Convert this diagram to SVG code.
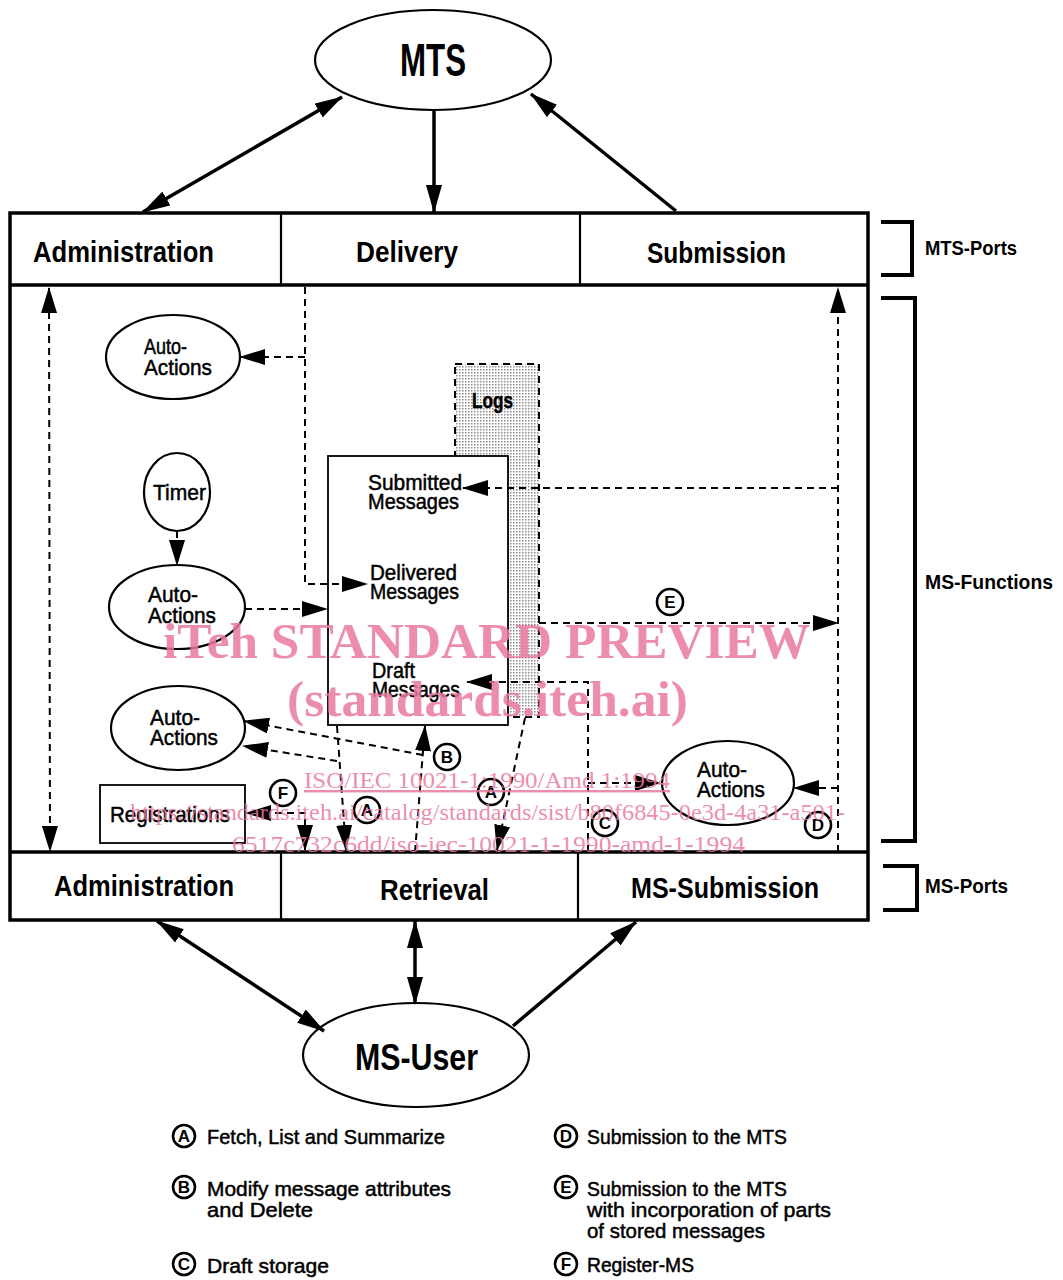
<svg xmlns="http://www.w3.org/2000/svg" width="1063" height="1280" viewBox="0 0 1063 1280">
<style>
  .bg { fill: #ffffff; }
  .frame { fill: none; stroke: #000; stroke-width: 3.5; }
  .cell { fill: #fff; stroke: #000; stroke-width: 2.2; }
  .ell { fill: #fff; stroke: #000; stroke-width: 2.2; }
  .box { fill: #fff; stroke: #000; stroke-width: 1.8; }
  .big { font-family: "Liberation Sans", Arial, sans-serif; font-weight: bold; fill: #000; }
  .side { font-family: "Liberation Sans", Arial, sans-serif; font-weight: bold; font-size: 21px; fill: #000; }
  .nt { font-family: "Liberation Sans", Arial, sans-serif; font-size: 22px; fill: #000; stroke: #000; stroke-width: 0.5; }
  .lg { font-family: "Liberation Sans", Arial, sans-serif; font-size: 21px; fill: #000; stroke: #000; stroke-width: 0.5; }
  .cl { font-family: "Liberation Sans", Arial, sans-serif; font-weight: bold; font-size: 17px; fill: #000; text-anchor: middle; }
  .circ { fill: #fff; stroke: #000; stroke-width: 2.6; }
  .solid { fill: none; stroke: #000; stroke-width: 3.5; }
  .dash { fill: none; stroke: #000; stroke-width: 2; stroke-dasharray: 7 5; }
  .brk { fill: none; stroke: #000; stroke-width: 4; }
  .wm { font-family: "Liberation Serif", "Times New Roman", serif; fill: #e9799d; fill-opacity: 0.85; }
</style>
<defs>
  <marker id="ah" viewBox="0 0 28 16" refX="27" refY="8" markerWidth="28" markerHeight="16" markerUnits="userSpaceOnUse" orient="auto-start-reverse">
    <path d="M0,0 L28,8 L0,16 z" fill="#000"/>
  </marker>
  <marker id="ahd" viewBox="0 0 26 16" refX="25" refY="8" markerWidth="26" markerHeight="16" markerUnits="userSpaceOnUse" orient="auto-start-reverse">
    <path d="M0,0 L26,8 L0,16 z" fill="#000"/>
  </marker>
  <pattern id="dots" width="3" height="3" patternUnits="userSpaceOnUse">
    <rect width="3" height="3" fill="#fff"/>
    <rect width="1.5" height="1.5" fill="#8a8a8a"/>
  </pattern>
</defs>
<rect class="bg" x="0" y="0" width="1063" height="1280"/>

<!-- Frame -->
<g id="frame">
  <rect class="frame" x="10" y="213" width="858" height="707"/>
  <line class="frame" x1="10" y1="285" x2="868" y2="285"/>
  <line class="frame" x1="10" y1="852" x2="868" y2="852"/>
</g>

<!-- MTS ports -->
<g id="port-admin-mts">
  <line class="cell" x1="281" y1="213" x2="281" y2="285"/>
  <text class="big" x="33" y="262" font-size="29" textLength="181" lengthAdjust="spacingAndGlyphs">Administration</text>
</g>
<g id="port-delivery">
  <line class="cell" x1="580" y1="213" x2="580" y2="285"/>
  <text class="big" x="356" y="262" font-size="29" textLength="102" lengthAdjust="spacingAndGlyphs">Delivery</text>
</g>
<g id="port-submission">
  <text class="big" x="647" y="263" font-size="29" textLength="139" lengthAdjust="spacingAndGlyphs">Submission</text>
</g>

<!-- MS ports -->
<g id="port-admin-ms">
  <line class="cell" x1="281" y1="852" x2="281" y2="920"/>
  <text class="big" x="54" y="896" font-size="30" textLength="180" lengthAdjust="spacingAndGlyphs">Administration</text>
</g>
<g id="port-retrieval">
  <line class="cell" x1="578" y1="852" x2="578" y2="920"/>
  <text class="big" x="380" y="900" font-size="30" textLength="109" lengthAdjust="spacingAndGlyphs">Retrieval</text>
</g>
<g id="port-ms-submission">
  <text class="big" x="631" y="898" font-size="30" textLength="188" lengthAdjust="spacingAndGlyphs">MS-Submission</text>
</g>

<!-- Brackets -->
<g id="bracket-mts-ports">
  <path class="brk" d="M881,222 L912,222 L912,275 L881,275"/>
  <text class="side" x="925" y="255" textLength="92" lengthAdjust="spacingAndGlyphs">MTS-Ports</text>
</g>
<g id="bracket-ms-functions">
  <path class="brk" d="M881,298 L915,298 L915,841 L881,841"/>
  <text class="side" x="925" y="589" textLength="128" lengthAdjust="spacingAndGlyphs">MS-Functions</text>
</g>
<g id="bracket-ms-ports">
  <path class="brk" d="M883,866 L917,866 L917,910 L883,910"/>
  <text class="side" x="925" y="893" textLength="83" lengthAdjust="spacingAndGlyphs">MS-Ports</text>
</g>

<!-- MTS -->
<g id="mts">
  <ellipse class="ell" cx="433" cy="60" rx="118" ry="50"/>
  <text class="big" x="400" y="76" font-size="46" textLength="66" lengthAdjust="spacingAndGlyphs">MTS</text>
</g>

<!-- MS-User -->
<g id="ms-user">
  <ellipse class="ell" cx="416" cy="1055" rx="113" ry="52"/>
  <text class="big" x="355" y="1070" font-size="36" textLength="123" lengthAdjust="spacingAndGlyphs">MS-User</text>
</g>

<!-- Auto-Actions 1 -->
<g id="auto-actions-1">
  <ellipse class="ell" cx="173" cy="357" rx="67" ry="42"/>
  <text class="nt" x="144" y="354" textLength="43" lengthAdjust="spacingAndGlyphs">Auto-</text>
  <text class="nt" x="144" y="375" textLength="68" lengthAdjust="spacingAndGlyphs">Actions</text>
</g>

<!-- Timer -->
<g id="timer">
  <ellipse class="ell" cx="177" cy="492" rx="33" ry="39"/>
  <text class="nt" x="153" y="500" textLength="53" lengthAdjust="spacingAndGlyphs">Timer</text>
</g>

<!-- Auto-Actions 2 -->
<g id="auto-actions-2">
  <ellipse class="ell" cx="177" cy="607" rx="68" ry="42"/>
  <text class="nt" x="148" y="602" textLength="50" lengthAdjust="spacingAndGlyphs">Auto-</text>
  <text class="nt" x="148" y="623" textLength="68" lengthAdjust="spacingAndGlyphs">Actions</text>
</g>

<!-- Auto-Actions (lower left) -->
<g id="auto-actions-3">
  <ellipse class="ell" cx="178" cy="728" rx="67" ry="42"/>
  <text class="nt" x="150" y="725" textLength="50" lengthAdjust="spacingAndGlyphs">Auto-</text>
  <text class="nt" x="150" y="745" textLength="68" lengthAdjust="spacingAndGlyphs">Actions</text>
</g>

<!-- Auto-Actions (right) -->
<g id="auto-actions-4">
  <ellipse class="ell" cx="728" cy="783" rx="66" ry="42"/>
  <text class="nt" x="697" y="777" textLength="50" lengthAdjust="spacingAndGlyphs">Auto-</text>
  <text class="nt" x="697" y="797" textLength="68" lengthAdjust="spacingAndGlyphs">Actions</text>
</g>

<!-- Registrations -->
<g id="registrations">
  <rect class="box" x="100" y="785" width="145" height="58"/>
  <text class="nt" x="110" y="822" textLength="120" lengthAdjust="spacingAndGlyphs">Registrations</text>
</g>

<!-- Logs -->
<g id="logs">
  <rect x="455" y="364" width="84" height="353" fill="url(#dots)" stroke="#000" stroke-width="2" stroke-dasharray="7 5"/>
  <text class="nt" x="472" y="408" font-weight="bold" font-size="20" textLength="41" lengthAdjust="spacingAndGlyphs">Logs</text>
</g>

<!-- Message store -->
<g id="message-store">
  <rect class="box" x="328" y="456" width="180" height="269"/>
  <text class="nt" x="368" y="490" textLength="94" lengthAdjust="spacingAndGlyphs">Submitted</text>
  <text class="nt" x="368" y="509" textLength="91" lengthAdjust="spacingAndGlyphs">Messages</text>
  <text class="nt" x="370" y="580" textLength="87" lengthAdjust="spacingAndGlyphs">Delivered</text>
  <text class="nt" x="370" y="599" textLength="89" lengthAdjust="spacingAndGlyphs">Messages</text>
  <text class="nt" x="372" y="678" textLength="43" lengthAdjust="spacingAndGlyphs">Draft</text>
  <text class="nt" x="372" y="697" textLength="88" lengthAdjust="spacingAndGlyphs">Messages</text>
</g>

<!-- Connectors -->
<g id="connectors">
  <line class="solid" x1="143" y1="212" x2="342" y2="97" marker-start="url(#ah)" marker-end="url(#ah)"/>
  <line class="solid" x1="434" y1="110" x2="434" y2="212" marker-end="url(#ah)"/>
  <line class="solid" x1="676" y1="211" x2="531" y2="94" marker-end="url(#ah)"/>
  <line class="solid" x1="157" y1="921" x2="324" y2="1031" marker-start="url(#ah)" marker-end="url(#ah)"/>
  <line class="solid" x1="415" y1="921" x2="415" y2="1004" marker-start="url(#ah)" marker-end="url(#ah)"/>
  <line class="solid" x1="513" y1="1026" x2="636" y2="922" marker-end="url(#ah)"/>
  <line class="dash" x1="49" y1="288" x2="50" y2="851" marker-start="url(#ahd)" marker-end="url(#ahd)"/>
  <line class="dash" x1="838" y1="852" x2="838" y2="288" marker-end="url(#ahd)"/>
  <path class="dash" d="M305,287 L305,584 L367,584" marker-end="url(#ahd)"/>
  <path class="dash" d="M305,357 L240,357" marker-end="url(#ahd)"/>
  <path class="dash" d="M177,531 L177,565" marker-end="url(#ahd)"/>
  <path class="dash" d="M245,609 L327,609" marker-end="url(#ahd)"/>
  <path class="dash" d="M838,488 L463,488" marker-end="url(#ahd)"/>
  <path class="dash" d="M539,623 L838,623" marker-end="url(#ahd)"/>
  <path class="dash" d="M588,852 L588,682 L467,682" marker-end="url(#ahd)"/>
  <path class="dash" d="M588,783 L660,783" marker-end="url(#ahd)"/>
  <path class="dash" d="M838,788 L794,788" marker-end="url(#ahd)"/>
  <path class="dash" d="M415,852 L425,726" marker-end="url(#ahd)"/>
  <path class="dash" d="M423,755 L244,721" marker-end="url(#ahd)"/>
  <path class="dash" d="M337,726 L346,850" marker-end="url(#ahd)"/>
  <path class="dash" d="M337,761 L243,746" marker-end="url(#ahd)"/>
  <path class="dash" d="M525,718 L497,850" marker-end="url(#ahd)"/>
  <path class="dash" d="M305,850 L305,813 L246,813" marker-start="url(#ahd)" marker-end="url(#ahd)"/>
</g>

<!-- Circled flow labels -->
<g id="flow-labels">
  <circle class="circ" cx="670" cy="602" r="13"/><text class="cl" x="670" y="608">E</text>
  <circle class="circ" cx="447" cy="757" r="13"/><text class="cl" x="447" y="763">B</text>
  <circle class="circ" cx="367" cy="810" r="13"/><text class="cl" x="367" y="816">A</text>
  <circle class="circ" cx="491" cy="792" r="13"/><text class="cl" x="491" y="798">A</text>
  <circle class="circ" cx="283" cy="793" r="13"/><text class="cl" x="283" y="799">F</text>
  <circle class="circ" cx="605" cy="823" r="13"/><text class="cl" x="605" y="829">C</text>
  <circle class="circ" cx="818" cy="825" r="13"/><text class="cl" x="818" y="831">D</text>
</g>

<!-- Legend -->
<g id="legend">
  <circle class="circ" cx="184" cy="1136" r="11"/><text class="cl" x="184" y="1142">A</text>
  <text class="lg" x="207" y="1144" textLength="238" lengthAdjust="spacingAndGlyphs">Fetch, List and Summarize</text>
  <circle class="circ" cx="184" cy="1187" r="11"/><text class="cl" x="184" y="1193">B</text>
  <text class="lg" x="207" y="1196" textLength="244" lengthAdjust="spacingAndGlyphs">Modify message attributes</text>
  <text class="lg" x="207" y="1217" textLength="106" lengthAdjust="spacingAndGlyphs">and Delete</text>
  <circle class="circ" cx="184" cy="1264" r="11"/><text class="cl" x="184" y="1270">C</text>
  <text class="lg" x="207" y="1273" textLength="122" lengthAdjust="spacingAndGlyphs">Draft storage</text>
  <circle class="circ" cx="566" cy="1136" r="11"/><text class="cl" x="566" y="1142">D</text>
  <text class="lg" x="587" y="1144" textLength="200" lengthAdjust="spacingAndGlyphs">Submission to the MTS</text>
  <circle class="circ" cx="566" cy="1187" r="11"/><text class="cl" x="566" y="1193">E</text>
  <text class="lg" x="587" y="1196" textLength="200" lengthAdjust="spacingAndGlyphs">Submission to the MTS</text>
  <text class="lg" x="587" y="1217" textLength="244" lengthAdjust="spacingAndGlyphs">with incorporation of parts</text>
  <text class="lg" x="587" y="1238" textLength="178" lengthAdjust="spacingAndGlyphs">of stored messages</text>
  <circle class="circ" cx="566" cy="1264" r="11"/><text class="cl" x="566" y="1270">F</text>
  <text class="lg" x="587" y="1272" textLength="107" lengthAdjust="spacingAndGlyphs">Register-MS</text>
</g>

<!-- Watermark -->
<g id="watermark">
  <text class="wm" x="163" y="658" font-size="50" font-weight="bold" textLength="647" lengthAdjust="spacingAndGlyphs">iTeh STANDARD PREVIEW</text>
  <text class="wm" x="287" y="716" font-size="50" font-weight="bold" textLength="401" lengthAdjust="spacingAndGlyphs">(standards.iteh.ai)</text>
  <text class="wm" x="304" y="788" font-size="24" text-decoration="underline" textLength="366" lengthAdjust="spacingAndGlyphs">ISO/IEC 10021-1:1990/Amd 1:1994</text>
  <text class="wm" x="130" y="820" font-size="24" textLength="715" lengthAdjust="spacingAndGlyphs">https://standards.iteh.ai/catalog/standards/sist/b80f6845-0e3d-4a31-a501-</text>
  <text class="wm" x="232" y="852" font-size="24" textLength="513" lengthAdjust="spacingAndGlyphs">6517c732c6dd/iso-iec-10021-1-1990-amd-1-1994</text>
</g>
</svg>
